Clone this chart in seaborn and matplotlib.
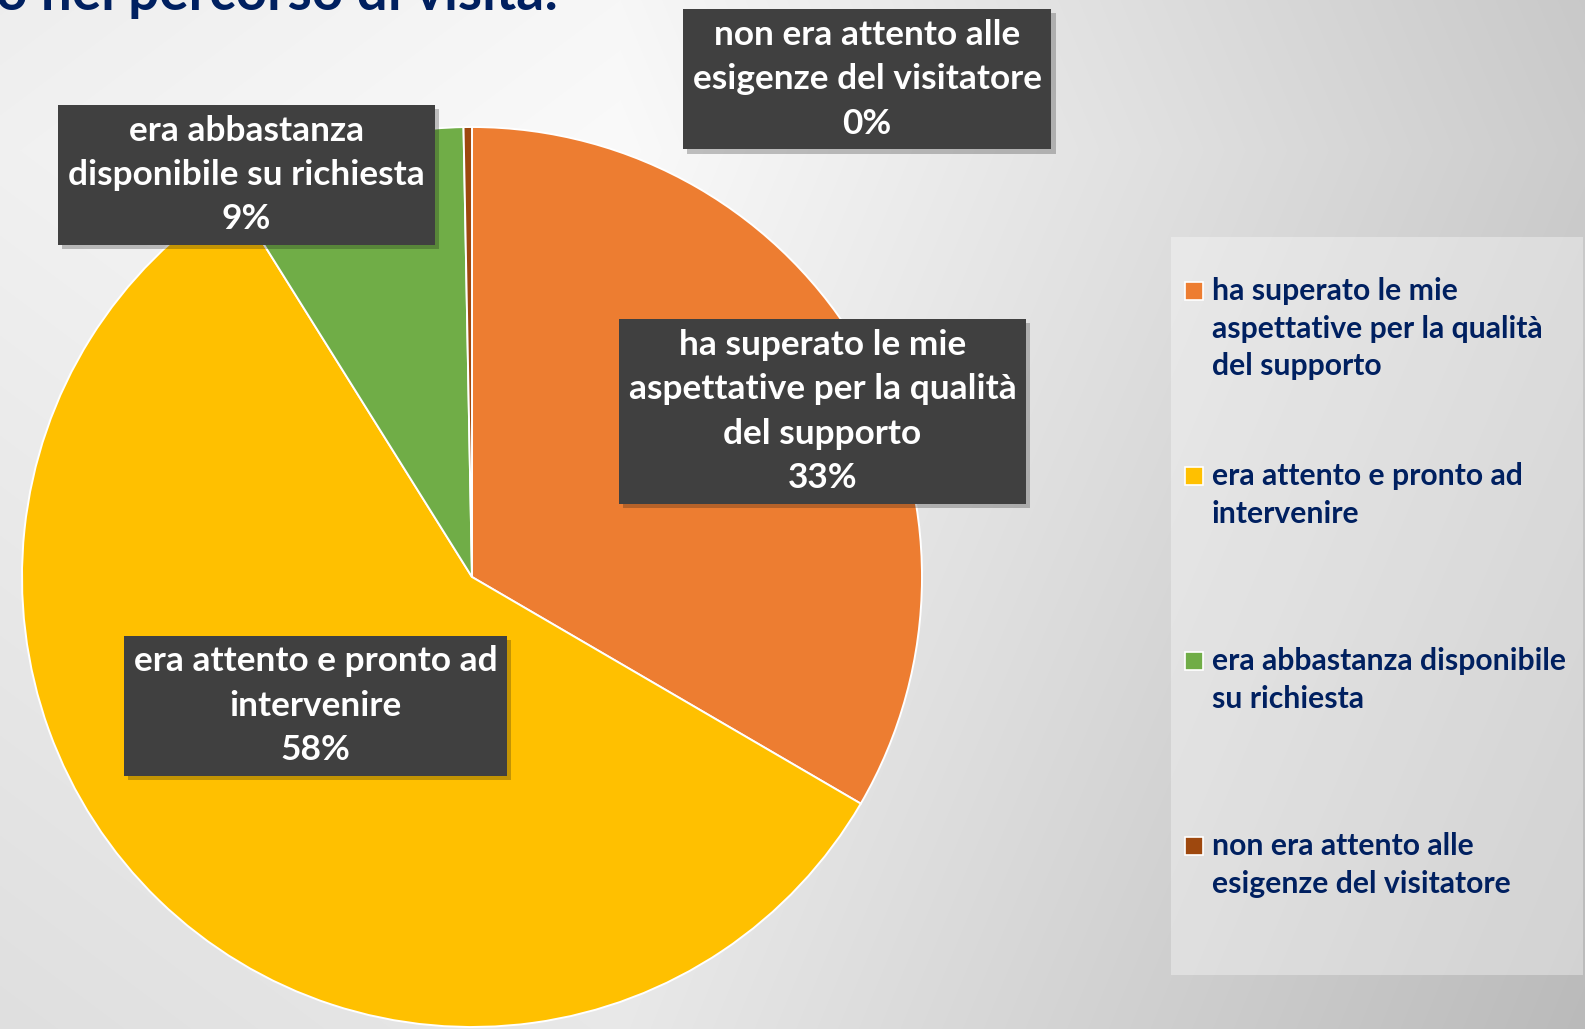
import numpy as np
import matplotlib
matplotlib.use("Agg")
import matplotlib.pyplot as plt
import matplotlib.patheffects as pe
from matplotlib.patches import Rectangle
import seaborn as sns

# data
categories = ["ha superato le mie aspettative per la qualità del supporto",
              "era attento e pronto ad intervenire",
              "era abbastanza disponibile su richiesta",
              "non era attento alle esigenze del visitatore"]
values = [33.4, 57.7, 8.6, 0.3]
pct_labels = ["33%", "58%", "9%", "0%"]
box_text = ["ha superato le mie\naspettative per la qualità\ndel supporto",
            "era attento e pronto ad\nintervenire",
            "era abbastanza\ndisponibile su richiesta",
            "non era attento alle\nesigenze del visitatore"]
legend_text = ["ha superato le mie\naspettative per la qualità\ndel supporto",
               "era attento e pronto ad\nintervenire",
               "era abbastanza disponibile\nsu richiesta",
               "non era attento alle\nesigenze del visitatore"]
colors = sns.color_palette(["#ED7D31", "#FFC000", "#70AD47", "#9E480E"])
title = "o nel percorso di visita:"

sns.set_theme(style="white")
plt.rcParams["font.family"] = ["Lato", "DejaVu Sans"]
navy = "#002060"

W, H = 1585, 1029
fig = plt.figure(figsize=(W / 100, H / 100), dpi=100)

# background gradient (light top-centre, greyer to the right and bottom)
bg = fig.add_axes([0, 0, 1, 1])
yy, xx = np.mgrid[0:H, 0:W]
dx = xx - 620.0
dy = np.abs(yy - 150.0)
drop = np.where(dx > 0, 0.048 * dx, -0.015 * dx) + 0.02 * dy
g = np.clip(250 - drop, 180, 250) / 255
bg.imshow(np.dstack([g, g, g]), aspect="auto", extent=[0, W, H, 0])
bg.set_xlim(0, W)
bg.set_ylim(H, 0)
bg.axis("off")

# title (cut at the top edge, as in the slide)
fig.text(-4 / W, 1 - 10 / H, title, color=navy, fontsize=39.5, fontweight="bold",
         ha="left", va="baseline")

# pie: centre (472, 577) px, radius 450 px
cx, cy, r = 472, 577, 450
ax = fig.add_axes([(cx - r) / W, (H - cy - r) / H, 2 * r / W, 2 * r / H])
ax.set_facecolor("none")
wedges, _ = ax.pie(values, colors=colors, startangle=90, counterclock=False,
                   radius=1, wedgeprops=dict(edgecolor="white", linewidth=1.4))
ax.set_xlim(-1, 1)
ax.set_ylim(-1, 1)
ax.axis("off")

# data label boxes (positions in pie units, as moved in the original)
label_pos = [(0.779, 0.368), (-0.348, -0.286), (-0.501, 0.893), (0.878, 1.106)]
for (x, y), txt, pct in zip(label_pos, box_text, pct_labels):
    t = ax.text(x, y, txt + "\n" + pct, ha="center", va="center", multialignment="center",
                color="white", fontsize=25.4, fontweight="bold", linespacing=1.47,
                bbox=dict(boxstyle="square,pad=0.28", fc="#404040", ec="none", lw=0),
                clip_on=False)
    t.get_bbox_patch().set_path_effects([pe.SimplePatchShadow(offset=(3, -3), alpha=0.25),
                                         pe.Normal()])

# legend panel
lx0, ly0, lx1, ly1 = 1171, 237, 1583, 975
lax = fig.add_axes([lx0 / W, (H - ly1) / H, (lx1 - lx0) / W, (ly1 - ly0) / H])
lax.set_xlim(lx0, lx1)
lax.set_ylim(ly1, ly0)
lax.set_facecolor((1, 1, 1, 0.35))
for s in lax.spines.values():
    s.set_visible(False)
lax.set_xticks([])
lax.set_yticks([])
step = 185
for i, (txt, c) in enumerate(zip(legend_text, colors)):
    top = 282 + i * step
    lax.add_patch(Rectangle((1185, top), 18, 18, fc=c, ec="white", lw=1.2))
    lax.text(1212, top - 5, txt, color=navy, fontsize=21.7, fontweight="bold",
             ha="left", va="top", linespacing=1.42)

fig.savefig("out.png", dpi=100)
